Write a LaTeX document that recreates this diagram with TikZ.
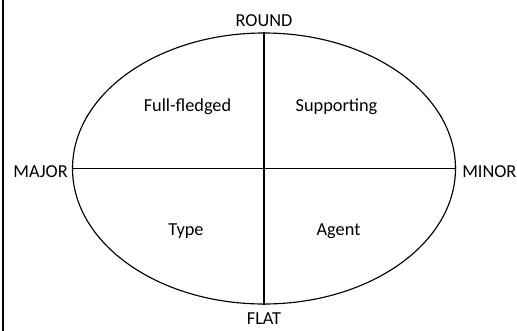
\documentclass[tikz,border=0pt]{standalone}
\usepackage{fontspec}
\setmainfont{Carlito}
\usetikzlibrary{shapes.geometric}
\begin{document}
\begin{tikzpicture}[x=1pt,y=-1pt,
  lbl/.style={inner sep=0pt,font=\fontsize{18.3}{21}\selectfont},
  ln/.style={line width=1.15pt}]
\useasboundingbox (0,0) rectangle (517,331);
\draw[line width=1.6pt] (3,0) -- (3,331);
\node[draw,ln,ellipse,minimum width=383pt,minimum height=271pt,inner sep=0pt] (e) at (264,168.5) {};
\draw[ln] (e.north) -- (e.south);
\draw[ln] (e.west) -- (e.east);
\node[lbl,anchor=south] (round) at ([yshift=6pt]e.north) {ROUND};
\node[lbl,anchor=north] (flat) at ([yshift=-8pt]e.south) {FLAT};
\node[lbl,anchor=east] (major) at ([xshift=-4pt,yshift=-3pt]e.west) {MAJOR};
\node[lbl,anchor=west] (minor) at ([xshift=6pt,yshift=-3pt]e.east) {MINOR};
\node[lbl] (ff) at (187.5,107) {Full-fledged};
\node[lbl] (sup) at (336.5,107) {Supporting};
\node[lbl] (type) at (186,231) {Type};
\node[lbl] (agent) at (338.5,231) {Agent};
\end{tikzpicture}
\end{document}
